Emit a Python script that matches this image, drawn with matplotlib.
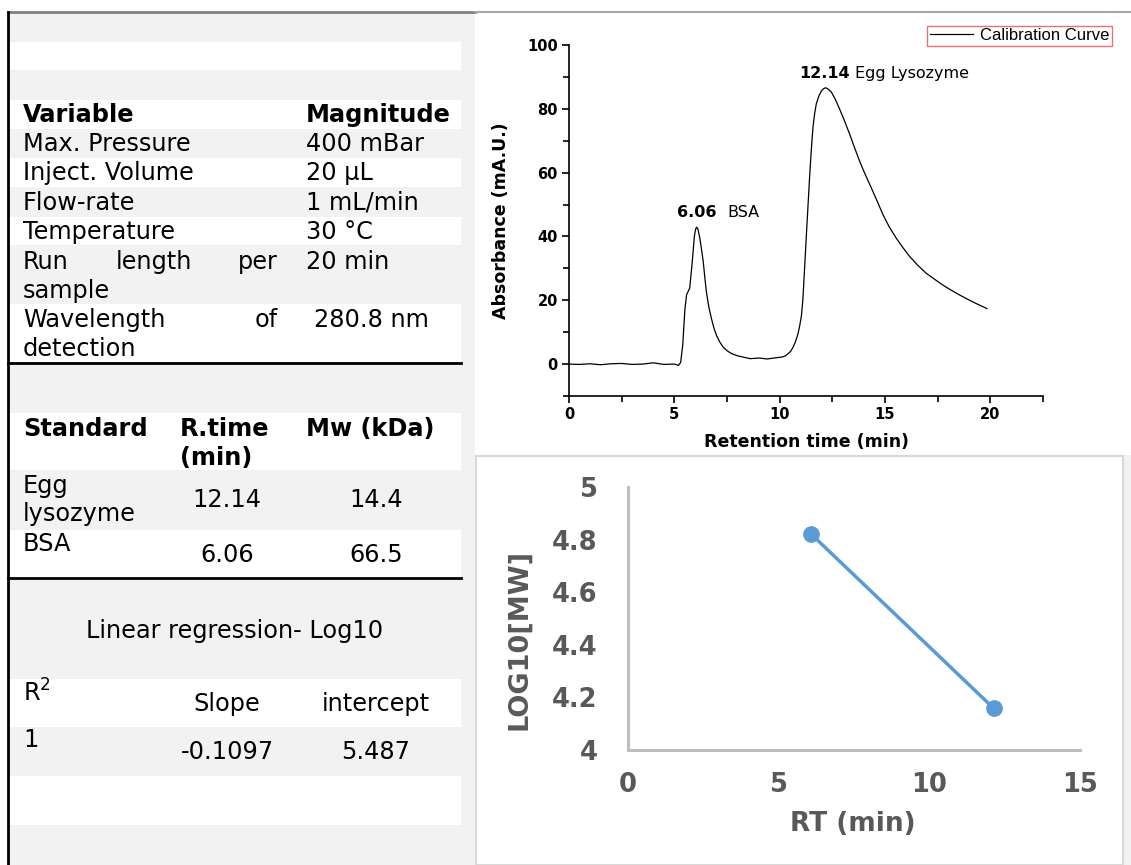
import matplotlib
matplotlib.use("Agg")
import matplotlib.pyplot as plt
from matplotlib.patches import Rectangle

# --- data -----------------------------------------------------------------
# chromatogram trace
rt_min = [0.0, 0.5, 1.0, 1.5, 2.0, 2.5, 3.0, 3.5, 4.0, 4.5, 5.0, 5.2,
          5.3, 5.4, 5.5, 5.58, 5.73, 5.85, 5.95, 6.0, 6.05, 6.1, 6.13, 6.21,
          6.3, 6.37, 6.45, 6.52, 6.64, 6.76, 6.88, 7.0, 7.15, 7.31, 7.5, 7.71,
          8.0, 8.26, 8.6, 9.05, 9.4, 9.84, 10.1, 10.25, 10.39, 10.52, 10.63,
          10.75, 10.87, 10.95, 11.03, 11.1, 11.15, 11.26, 11.34, 11.42, 11.5,
          11.58, 11.66, 11.74, 11.86, 11.98, 12.08, 12.18, 12.3, 12.45, 12.64,
          12.84, 13.08, 13.32, 13.55, 13.79, 14.03, 14.27, 14.6, 14.9, 15.2,
          15.53, 15.85, 16.16, 16.55, 16.95, 17.35, 17.74, 18.13, 18.53, 18.9,
          19.32, 19.84]
absorbance = [0.0, -0.1, 0.1, -0.2, 0.1, 0.2, -0.1, 0.0, 0.4, -0.1, 0.0, -0.4,
              0.5, 6.0, 17.0, 21.7, 23.8, 32.0, 40.0, 42.0, 42.9, 42.6, 42.0, 39.5,
              35.5, 32.2, 27.0, 22.7, 17.8, 14.3, 11.3, 9.0, 7.0, 5.4, 4.2, 3.3,
              2.6, 2.2, 1.7, 1.9, 1.6, 2.0, 2.2, 2.5, 3.2, 4.0, 5.2,
              7.0, 9.5, 12.0, 15.0, 20.0, 26.0, 39.5, 49.0, 58.5, 67.0,
              74.2, 78.5, 81.6, 84.0, 85.6, 86.3, 86.6, 86.2, 85.3, 83.0,
              80.0, 76.2, 72.1, 67.9, 63.7, 59.9, 56.4, 51.5, 46.9, 43.0,
              39.5, 36.5, 33.8, 31.0, 28.5, 26.6, 24.8, 23.2, 21.7, 20.4,
              19.0, 17.4]

standards = [["Egg", "lysozyme"], ["BSA"]]
std_rtime = [12.14, 6.06]
std_mw = [14.4, 66.5]
log_mw = [4.158, 4.823]          # log10 of Mw in Da
peak_names = ["Egg Lysozyme", "BSA"]
peak_height = [86.6, 42.9]

variables = ["Max. Pressure", "Inject. Volume", "Flow-rate", "Temperature"]
magnitudes = ["400 mBar", "20 µL", "1 mL/min", "30 °C"]

fit_r2 = "1"
fit_slope = "-0.1097"
fit_intercept = "5.487"

W, H = 1131, 865
fig = plt.figure(figsize=(W / 100, H / 100), dpi=100)
fig.patch.set_facecolor("white")

# background canvas in pixel coordinates for the table side
bg = fig.add_axes([0, 0, 1, 1])
bg.set_xlim(0, W)
bg.set_ylim(H, 0)
bg.axis("off")

gray = "#f2f2f2"
bg.add_patch(Rectangle((8, 12), 467, H - 12, color=gray, lw=0))
bg.add_patch(Rectangle((461, 455), W - 461, H - 455, color=gray, lw=0))
# white table bands
for y0, y1 in [(42, 70), (100, 129), (158, 187), (217, 245), (304, 362),
               (413, 470), (530, 578), (679, 727), (776, 825)]:
    bg.add_patch(Rectangle((8, y0), 453, y1 - y0, color="white", lw=0))
# excel panel
bg.add_patch(Rectangle((476, 456), 647, H - 456, facecolor="white",
                       edgecolor="#d9d9d9", lw=1.5))
bg.plot([8, 475], [12, 12], color="#808080", lw=2)
bg.plot([475, W], [12, 12], color="#a6a6a6", lw=1.5)
bg.plot([8, 8], [12, H], color="black", lw=2)
bg.plot([8, 461], [363, 363], color="black", lw=2)
bg.plot([8, 461], [578, 578], color="black", lw=2)

fs = 17.3
tk = dict(fontsize=fs, va="center", color="black")
bg.text(23, 115, "Variable", fontweight="bold", **tk)
bg.text(306, 115, "Magnitude", fontweight="bold", **tk)
for i, (v, m) in enumerate(zip(variables, magnitudes)):
    y = 144 + i * 29.3
    bg.text(23, y, v, **tk)
    bg.text(306, y, m, **tk)
bg.text(23, 262, "Run", **tk)
bg.text(116, 262, "length", **tk)
bg.text(238, 262, "per", **tk)
bg.text(23, 291, "sample", **tk)
bg.text(306, 262, "20 min", **tk)
bg.text(23, 320, "Wavelength", **tk)
bg.text(255, 320, "of", **tk)
bg.text(23, 349, "detection", **tk)
bg.text(314, 320, "280.8 nm", **tk)

bg.text(23, 429, "Standard", fontweight="bold", **tk)
bg.text(180, 429, "R.time", fontweight="bold", **tk)
bg.text(180, 458, "(min)", fontweight="bold", **tk)
bg.text(306, 429, "Mw (kDa)", fontweight="bold", **tk)
for name, rt, mw, ytxt, yval in zip(standards, std_rtime, std_mw, [486, 544], [500, 555]):
    for k, part in enumerate(name):
        bg.text(23, ytxt + k * 28, part, **tk)
    bg.text(227, yval, f"{rt:.2f}", ha="center", **tk)
    bg.text(376, yval, f"{mw:.1f}", ha="center", **tk)

bg.text(235, 631, "Linear regression- Log10", ha="center", **tk)
bg.text(23, 693, r"R$^2$", **tk)
bg.text(227, 704, "Slope", ha="center", **tk)
bg.text(376, 704, "intercept", ha="center", **tk)
bg.text(23, 740, fit_r2, **tk)
bg.text(227, 752, fit_slope, ha="center", **tk)
bg.text(376, 752, fit_intercept, ha="center", **tk)


def px_axes(x0, y0, x1, y1):
    return fig.add_axes([x0 / W, 1 - y1 / H, (x1 - x0) / W, (y1 - y0) / H])


# --- chromatogram ---------------------------------------------------------
ax = px_axes(569, 45, 1043, 396)
ax.patch.set_alpha(0)
ax.plot(rt_min, absorbance, color="black", lw=0.9, label="Calibration Curve")
ax.set_xlim(0, 22.5)
ax.set_ylim(-10, 100)
for s in ["top", "right"]:
    ax.spines[s].set_visible(False)
for s in ["left", "bottom"]:
    ax.spines[s].set_linewidth(1.2)
ax.set_xticks([0, 5, 10, 15, 20])
ax.set_xticks([2.5, 7.5, 12.5, 17.5, 22.5], minor=True)
ax.set_yticks([0, 20, 40, 60, 80, 100])
ax.set_yticks([-10, 10, 30, 50, 70, 90], minor=True)
ax.tick_params(which="major", direction="out", length=5, width=1.2, pad=3)
ax.tick_params(which="minor", direction="out", length=4, width=1.2)
for lab in ax.get_xticklabels() + ax.get_yticklabels():
    lab.set_fontweight("bold")
    lab.set_fontsize(10.5)
ax.set_xlabel("Retention time (min)", fontsize=12.5, fontweight="bold", labelpad=8)
ax.set_ylabel("Absorbance (mA.U.)", fontsize=12.5, fontweight="bold", labelpad=12)
for name, rt, h in zip(peak_names, std_rtime, peak_height):
    ax.annotate(f"{rt:.2f}", (rt, h), xytext=(0, 5), textcoords="offset points",
                ha="center", va="bottom", fontsize=11.5, fontweight="bold")
    ax.annotate(name, (rt, h), xytext=(22, 5), textcoords="offset points",
                ha="left", va="bottom", fontsize=11.5)
leg = ax.legend(loc="upper right", bbox_to_anchor=(1.145, 1.055), frameon=True,
                fancybox=False, prop={"family": "Liberation Sans", "size": 12},
                handlelength=2.6, borderpad=0.15, handletextpad=0.4,
                borderaxespad=0)
leg.get_frame().set_edgecolor("#e8484f")
leg.get_frame().set_linewidth(1.0)

# --- log10(MW) vs RT ------------------------------------------------------
ax2 = px_axes(628, 487, 1080, 750)
ax2.plot(std_rtime, log_mw, color="#5b9bd5", lw=2.5, marker="o", ms=11,
         markeredgecolor="#5b9bd5", clip_on=False)
ax2.set_xlim(0, 15)
ax2.set_ylim(4, 5)
ax2.set_xticks([0, 5, 10, 15])
ax2.set_yticks([4, 4.2, 4.4, 4.6, 4.8, 5])
ax2.set_yticklabels(["4", "4.2", "4.4", "4.6", "4.8", "5"])
for s in ["top", "right"]:
    ax2.spines[s].set_visible(False)
for s in ["left", "bottom"]:
    ax2.spines[s].set_color("#bfbfbf")
    ax2.spines[s].set_linewidth(2.2)
ax2.tick_params(axis="y", length=0, pad=22)
ax2.tick_params(axis="x", length=0, pad=16)
for lab in ax2.get_xticklabels() + ax2.get_yticklabels():
    lab.set_fontweight("bold")
    lab.set_fontsize(18.5)
    lab.set_color("#595959")
ax2.set_xlabel("RT (min)", fontsize=19, fontweight="bold", color="#595959")
ax2.set_ylabel("LOG10[MW]", fontsize=19.5, fontweight="bold", color="#595959")
ax2.xaxis.set_label_coords((853 - 628) / (1080 - 628), -(824 - 750) / (750 - 487))
ax2.yaxis.set_label_coords(-(628 - 519) / (1080 - 628), (750 - 639) / (750 - 487))
ax2.xaxis.label.set_va("center")
ax2.yaxis.label.set_va("center")

fig.savefig("out.png", dpi=100)
